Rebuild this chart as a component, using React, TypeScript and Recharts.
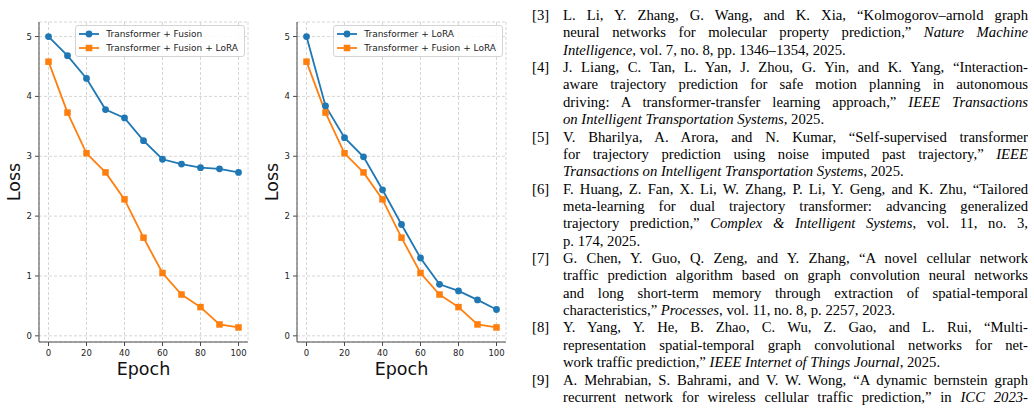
import React from 'react';
import { CartesianGrid, Legend, Line, LineChart, XAxis, YAxis } from 'recharts';

const epochs = [0, 10, 20, 30, 40, 50, 60, 70, 80, 90, 100];
const fusionLoss = [5.0, 4.68, 4.3, 3.78, 3.64, 3.26, 2.95, 2.87, 2.81, 2.79, 2.73];
const loraLoss = [5.0, 3.84, 3.31, 2.99, 2.44, 1.86, 1.3, 0.86, 0.75, 0.6, 0.44];
const fusionLoraLoss = [4.58, 3.73, 3.05, 2.73, 2.28, 1.64, 1.05, 0.69, 0.48, 0.19, 0.14];
const xTicks = [0, 20, 40, 60, 80, 100];
const yTicks = [0, 1, 2, 3, 4, 5];

const BLUE = '#1f77b4';
const ORANGE = '#ff7f0e';
const FONT = '"DejaVu Sans", sans-serif';

type Marker = 'circle' | 'square';
type Series = { key: string; name: string; color: string; marker: Marker; values: number[] };

const leftSeries: Series[] = [
  { key: 'fusion', name: 'Transformer + Fusion', color: BLUE, marker: 'circle', values: fusionLoss },
  { key: 'fusionLora', name: 'Transformer + Fusion + LoRA', color: ORANGE, marker: 'square', values: fusionLoraLoss },
];
const rightSeries: Series[] = [
  { key: 'lora', name: 'Transformer + LoRA', color: BLUE, marker: 'circle', values: loraLoss },
  { key: 'fusionLora', name: 'Transformer + Fusion + LoRA', color: ORANGE, marker: 'square', values: fusionLoraLoss },
];

// references text beside the figure, *...* = italic
const references = [
  {
    label: '[3]',
    lines: [
      'L. Li, Y. Zhang, G. Wang, and K. Xia, “Kolmogorov–arnold graph',
      'neural networks for molecular property prediction,” *Nature Machine*',
      '*Intelligence*, vol. 7, no. 8, pp. 1346–1354, 2025.',
    ],
  },
  {
    label: '[4]',
    lines: [
      'J. Liang, C. Tan, L. Yan, J. Zhou, G. Yin, and K. Yang, “Interaction-',
      'aware trajectory prediction for safe motion planning in autonomous',
      'driving: A transformer-transfer learning approach,” *IEEE Transactions*',
      '*on Intelligent Transportation Systems*, 2025.',
    ],
  },
  {
    label: '[5]',
    lines: [
      'V. Bharilya, A. Arora, and N. Kumar, “Self-supervised transformer',
      'for trajectory prediction using noise imputed past trajectory,” *IEEE*',
      '*Transactions on Intelligent Transportation Systems*, 2025.',
    ],
  },
  {
    label: '[6]',
    lines: [
      'F. Huang, Z. Fan, X. Li, W. Zhang, P. Li, Y. Geng, and K. Zhu, “Tailored',
      'meta-learning for dual trajectory transformer: advancing generalized',
      'trajectory prediction,” *Complex & Intelligent Systems*, vol. 11, no. 3,',
      'p. 174, 2025.',
    ],
  },
  {
    label: '[7]',
    lines: [
      'G. Chen, Y. Guo, Q. Zeng, and Y. Zhang, “A novel cellular network',
      'traffic prediction algorithm based on graph convolution neural networks',
      'and long short-term memory through extraction of spatial-temporal',
      'characteristics,” *Processes*, vol. 11, no. 8, p. 2257, 2023.',
    ],
  },
  {
    label: '[8]',
    lines: [
      'Y. Yang, Y. He, B. Zhao, C. Wu, Z. Gao, and L. Rui, “Multi-',
      'representation spatial-temporal graph convolutional networks for net-',
      'work traffic prediction,” *IEEE Internet of Things Journal*, 2025.',
    ],
  },
  {
    label: '[9]',
    lines: [
      'A. Mehrabian, S. Bahrami, and V. W. Wong, “A dynamic bernstein graph',
      'recurrent network for wireless cellular traffic prediction,” in *ICC 2023-*',
    ],
    cut: true,
  },
];

// matplotlib-like 5% autoscale margin
const padded = (vals: number[]): [number, number] => {
  const lo = Math.min(...vals);
  const hi = Math.max(...vals);
  const pad = (hi - lo) * 0.05;
  return [lo - pad, hi + pad];
};

const PLOT_TOP = 22;
const AXIS_W = 39;
const AXIS_H = 69;
const HEIGHT = 411;
const FRAME = '#4a4a4a';

const XTitle = (props: any) => {
  const { x, y, width } = props.viewBox;
  return (
    <text x={x + width / 2} y={y + 33} textAnchor="middle" fontSize={17.5} fontFamily={FONT} fill="#111">
      Epoch
    </text>
  );
};

const YTitle = (props: any) => {
  const { x, y, height } = props.viewBox;
  const cx = x + 14;
  const cy = y + height / 2;
  return (
    <text
      x={cx}
      y={cy}
      transform={`rotate(-90, ${cx}, ${cy})`}
      textAnchor="middle"
      dominantBaseline="central"
      fontSize={17.5}
      fontFamily={FONT}
      fill="#111"
    >
      Loss
    </text>
  );
};

const LegendBox = ({ payload, series }: any) => {
  const items = (payload || [])
    .slice()
    .sort(
      (a: any, b: any) =>
        series.findIndex((s: Series) => s.key === a.dataKey) - series.findIndex((s: Series) => s.key === b.dataKey),
    );
  return (
    <div
      style={{
        background: 'rgba(255,255,255,0.85)',
        border: '1px solid #d4d4d4',
        borderRadius: 3,
        padding: '1px 6px 1px 3px',
        fontFamily: FONT,
        fontSize: 9,
        color: '#222',
        whiteSpace: 'nowrap',
      }}
    >
      {items.map((entry: any) => {
        const s = series.find((x: Series) => x.key === entry.dataKey);
        return (
          <div key={entry.value} style={{ display: 'flex', alignItems: 'center', height: 14 }}>
            <svg width={20} height={14} style={{ flex: 'none' }}>
              <line x1={0} y1={7} x2={20} y2={7} stroke={entry.color} strokeWidth={1.8} />
              {s && s.marker === 'square' ? (
                <rect x={6.75} y={3.75} width={6.5} height={6.5} fill={entry.color} />
              ) : (
                <circle cx={10} cy={7} r={3.4} fill={entry.color} />
              )}
            </svg>
            <span style={{ marginLeft: 7 }}>{entry.value}</span>
          </div>
        );
      })}
    </div>
  );
};

const squareDot = (color: string) => (props: any) => {
  const { cx, cy, index } = props;
  return <rect key={`sq-${index}`} x={cx - 3.25} y={cy - 3.25} width={6.5} height={6.5} fill={color} />;
};

const LossChart = ({ series, width, marginRight }: { series: Series[]; width: number; marginRight: number }) => {
  const data = epochs.map((epoch, i) => {
    const row: Record<string, number> = { epoch };
    series.forEach((s) => {
      row[s.key] = s.values[i];
    });
    return row;
  });
  const yDomain = padded(series.flatMap((s) => s.values));
  const xDomain = padded(epochs);
  const tickStyle = { fontSize: 8.5, fontFamily: FONT, fill: '#222' };

  return (
    <LineChart width={width} height={HEIGHT} data={data} margin={{ top: PLOT_TOP, right: marginRight, bottom: 0, left: 0 }}>
      <CartesianGrid stroke="#d6d6d6" strokeDasharray="3 2" />
      <XAxis
        type="number"
        dataKey="epoch"
        domain={xDomain}
        ticks={xTicks}
        height={AXIS_H}
        tickSize={4}
        tickMargin={4}
        tick={tickStyle}
        tickLine={{ stroke: FRAME }}
        axisLine={{ stroke: FRAME }}
        label={XTitle}
      />
      <XAxis xAxisId="top" orientation="top" type="number" domain={xDomain} height={0} tick={false} tickLine={false} axisLine={{ stroke: FRAME }} />
      <YAxis
        type="number"
        domain={yDomain}
        ticks={yTicks}
        width={AXIS_W}
        tickSize={4}
        tickMargin={3}
        tick={tickStyle}
        tickLine={{ stroke: FRAME }}
        axisLine={{ stroke: FRAME }}
        label={YTitle}
      />
      <YAxis yAxisId="right" orientation="right" type="number" domain={yDomain} width={0} tick={false} tickLine={false} axisLine={{ stroke: FRAME }} />
      <Legend
        layout="horizontal"
        align="center"
        verticalAlign="middle"
        content={<LegendBox series={series} />}
        wrapperStyle={{ top: 25, right: marginRight + 3, left: 'auto', width: 'auto', height: 'auto' }}
      />
      {series.map((s) => (
        <Line
          key={s.key}
          dataKey={s.key}
          name={s.name}
          stroke={s.color}
          strokeWidth={1.8}
          dot={s.marker === 'square' ? squareDot(s.color) : { r: 3.4, fill: s.color, stroke: s.color, strokeWidth: 0 }}
          activeDot={false}
          isAnimationActive={false}
        />
      ))}
    </LineChart>
  );
};

const RefLine = ({ text, justify }: { text: string; justify: boolean }) => (
  <div style={{ textAlign: 'justify', textAlignLast: justify ? 'justify' : 'left', height: 17.36, overflow: 'hidden' }}>
    {text.split('*').map((part, i) => (i % 2 === 1 ? <i key={i}>{part}</i> : <span key={i}>{part}</span>))}
  </div>
);

export default function App() {
  return (
    <div style={{ position: 'absolute', left: 0, top: 0, width: 1034, height: 411, overflow: 'hidden', background: '#fff' }}>
      <div style={{ position: 'absolute', left: 0, top: 0 }}>
        <LossChart series={leftSeries} width={258} marginRight={10} />
      </div>
      <div style={{ position: 'absolute', left: 258, top: 0 }}>
        <LossChart series={rightSeries} width={260} marginRight={12} />
      </div>
      <div
        style={{
          position: 'absolute',
          left: 532,
          top: 7,
          width: 496,
          fontFamily: '"Liberation Serif", Tinos, "Times New Roman", Times, serif',
          fontSize: 14.7,
          lineHeight: '17.36px',
          color: '#000',
        }}
      >
        {references.map((ref) => (
          <div key={ref.label} style={{ display: 'flex' }}>
            <div style={{ width: 31, flex: 'none' }}>{ref.label}</div>
            <div style={{ width: 465 }}>
              {ref.lines.map((line, i) => (
                <RefLine key={i} text={line} justify={ref.cut ? true : i < ref.lines.length - 1} />
              ))}
            </div>
          </div>
        ))}
      </div>
    </div>
  );
}
